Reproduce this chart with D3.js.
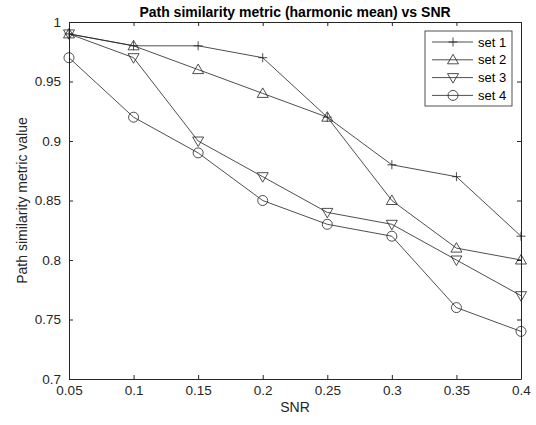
<!DOCTYPE html>
<html>
<head>
<meta charset="utf-8">
<title>Path similarity vs SNR</title>
<script src="https://cdn.jsdelivr.net/npm/d3@7"></script>
<style>
  body { margin: 0; background: #fff; }
  svg { font-family: "Liberation Sans", Arial, sans-serif; }
  .tick text { fill: #262626; font-size: 13.5px; }
  .axis path, .axis line { stroke: #262626; }
</style>
</head>
<body>
<div id="chart"></div>
<script>
var snr = [0.05, 0.1, 0.15, 0.2, 0.25, 0.3, 0.35, 0.4];
var set1 = [0.99, 0.98, 0.98, 0.97, 0.92, 0.88, 0.87, 0.82];
var set2 = [0.99, 0.98, 0.96, 0.94, 0.92, 0.85, 0.81, 0.80];
var set3 = [0.99, 0.97, 0.90, 0.87, 0.84, 0.83, 0.80, 0.77];
var set4 = [0.97, 0.92, 0.89, 0.85, 0.83, 0.82, 0.76, 0.74];
var seriesNames = ["set 1", "set 2", "set 3", "set 4"];
var markers = ["plus", "up", "down", "circle"];
var xTicks = [0.05, 0.1, 0.15, 0.2, 0.25, 0.3, 0.35, 0.4];
var yTicks = [0.7, 0.75, 0.8, 0.85, 0.9, 0.95, 1];

var width = 536, height = 425;
var margin = {top: 22, right: 15, bottom: 46, left: 69};
var w = width - margin.left - margin.right,
    h = height - margin.top - margin.bottom;

var svg = d3.select("#chart").append("svg")
    .attr("width", width).attr("height", height);

var x = d3.scaleLinear().domain([0.05, 0.4]).range([0, w]);
var y = d3.scaleLinear().domain([0.7, 1]).range([h, 0]);

var g = svg.append("g").attr("transform", "translate(" + margin.left + "," + margin.top + ")");

var fmt = function(d) { return d3.format("")(+d.toFixed(2)); };

// bottom and left axes with inner ticks
g.append("g").attr("class", "axis").attr("transform", "translate(0," + h + ")")
  .call(d3.axisBottom(x).tickValues(xTicks).tickFormat(fmt).tickSizeInner(-4).tickSizeOuter(0).tickPadding(6))
  .call(function(s) { s.selectAll("text").attr("dy", "0.75em"); });
g.append("g").attr("class", "axis")
  .call(d3.axisLeft(y).tickValues(yTicks).tickFormat(fmt).tickSizeInner(-4).tickSizeOuter(0).tickPadding(8));
// top and right (box)
g.append("g").attr("class", "axis")
  .call(d3.axisTop(x).tickValues(xTicks).tickFormat("").tickSizeInner(-4).tickSizeOuter(0));
g.append("g").attr("class", "axis").attr("transform", "translate(" + w + ",0)")
  .call(d3.axisRight(y).tickValues(yTicks).tickFormat("").tickSizeInner(-4).tickSizeOuter(0));

function drawMarker(sel, type) {
  if (type === "plus") {
    sel.append("path").attr("d", "M-4.5,0H4.5M0,-4.5V4.5");
  } else if (type === "up") {
    sel.append("path").attr("d", "M0,-5.5L5.5,4L-5.5,4Z");
  } else if (type === "down") {
    sel.append("path").attr("d", "M0,5.5L5.5,-4L-5.5,-4Z");
  } else {
    sel.append("circle").attr("r", 5);
  }
}

var allSets = [set1, set2, set3, set4];
var line = d3.line().x(function(d, i) { return x(snr[i]); }).y(function(d) { return y(d); });

allSets.forEach(function(vals, k) {
  g.append("path").datum(vals)
    .attr("d", line)
    .attr("fill", "none").attr("stroke", "#222").attr("stroke-width", 0.8);
  vals.forEach(function(v, i) {
    var m = g.append("g").attr("transform", "translate(" + x(snr[i]) + "," + y(v) + ")")
      .attr("fill", "none").attr("stroke", "#222").attr("stroke-width", 0.8);
    drawMarker(m, markers[k]);
  });
});

// title
svg.append("text").attr("x", margin.left + w / 2).attr("y", 17)
  .attr("text-anchor", "middle").attr("font-weight", "bold").attr("font-size", 14)
  .attr("fill", "#000").text("Path similarity metric (harmonic mean) vs SNR");

// axis labels
svg.append("text").attr("x", margin.left + w / 2).attr("y", 412)
  .attr("text-anchor", "middle").attr("font-size", 14).attr("fill", "#262626").text("SNR");
svg.append("text").attr("transform", "translate(27," + (margin.top + h / 2) + ") rotate(-90)")
  .attr("text-anchor", "middle").attr("font-size", 14).attr("fill", "#262626")
  .text("Path similarity metric value");

// legend
var lg = svg.append("g").attr("transform", "translate(425,31)");
lg.append("rect").attr("width", 87).attr("height", 75)
  .attr("fill", "#fff").attr("stroke", "#262626").attr("stroke-width", 0.8);
seriesNames.forEach(function(name, k) {
  var ry = 11 + k * 17.8;
  lg.append("line").attr("x1", 7).attr("x2", 48).attr("y1", ry).attr("y2", ry)
    .attr("stroke", "#222").attr("stroke-width", 0.8);
  var m = lg.append("g").attr("transform", "translate(28," + ry + ")")
    .attr("fill", "none").attr("stroke", "#222").attr("stroke-width", 0.8);
  drawMarker(m, markers[k]);
  lg.append("text").attr("x", 53).attr("y", ry).attr("dy", "0.35em")
    .attr("font-size", 13).attr("fill", "#000").text(name);
});
</script>
</body>
</html>
